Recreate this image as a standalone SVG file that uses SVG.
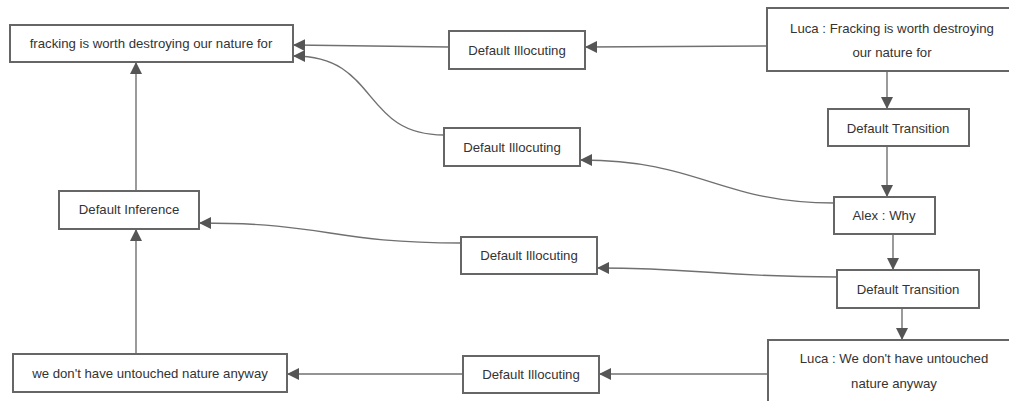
<svg xmlns="http://www.w3.org/2000/svg" width="1009" height="401" viewBox="0 0 1009 401">
  <style>
    .box { fill: #ffffff; stroke: #666666; stroke-width: 2; }
    .lbl { font-family: "Liberation Sans", Arial, sans-serif; font-size: 13.2px; fill: #333333; text-anchor: middle; dominant-baseline: central; }
    .edge { fill: none; stroke: #707070; stroke-width: 1.4; marker-end: url(#arrow); }
  </style>
  <defs>
    <marker id="arrow" markerUnits="userSpaceOnUse" markerWidth="12" markerHeight="12" refX="11" refY="6" orient="auto">
      <path d="M0,0 L12,6 L0,12 z" fill="#555555"/>
    </marker>
  </defs>
  <rect width="1009" height="401" fill="#ffffff"/>

  <!-- connectors -->
  <g id="connectors">
    <path class="edge" d="M767,46 L586,47"/>
    <path class="edge" d="M449,47 L294,45"/>
    <path class="edge" d="M444,135 C360,135 380,56 294,56"/>
    <path class="edge" d="M834,203 C720,203 700,160 581,160"/>
    <path class="edge" d="M887,71 L887,108"/>
    <path class="edge" d="M887,146 L887,196"/>
    <path class="edge" d="M893,234 L893,269"/>
    <path class="edge" d="M902,308 L902,339"/>
    <path class="edge" d="M837,277 C720,277 700,268 598,268"/>
    <path class="edge" d="M461,243 C330,243 330,223 200,223"/>
    <path class="edge" d="M136,191 L136,63"/>
    <path class="edge" d="M136,354 L136,230"/>
    <path class="edge" d="M768,374 L600,374"/>
    <path class="edge" d="M463,374 L288,374"/>
  </g>

  <!-- nodes -->
  <g id="n-fracking">
    <rect class="box" x="10" y="25" width="283" height="37"/>
    <text class="lbl" x="151" y="43">fracking is worth destroying our nature for</text>
  </g>
  <g id="n-illoc1">
    <rect class="box" x="449" y="31" width="136" height="38"/>
    <text class="lbl" x="517" y="50">Default Illocuting</text>
  </g>
  <g id="n-luca1">
    <rect class="box" x="767" y="8" width="250" height="63"/>
    <text class="lbl" x="892" y="28">Luca : Fracking is worth destroying</text>
    <text class="lbl" x="892" y="52">our nature for</text>
  </g>
  <g id="n-trans1">
    <rect class="box" x="828" y="109" width="141" height="37"/>
    <text class="lbl" x="898" y="128">Default Transition</text>
  </g>
  <g id="n-illoc2">
    <rect class="box" x="444" y="128" width="136" height="38"/>
    <text class="lbl" x="512" y="147">Default Illocuting</text>
  </g>
  <g id="n-alex">
    <rect class="box" x="834" y="197" width="101" height="37"/>
    <text class="lbl" x="884" y="215">Alex : Why</text>
  </g>
  <g id="n-inference">
    <rect class="box" x="59" y="191" width="140" height="38"/>
    <text class="lbl" x="129" y="209">Default Inference</text>
  </g>
  <g id="n-illoc3">
    <rect class="box" x="461" y="237" width="136" height="37"/>
    <text class="lbl" x="529" y="255">Default Illocuting</text>
  </g>
  <g id="n-trans2">
    <rect class="box" x="837" y="270" width="142" height="38"/>
    <text class="lbl" x="908" y="289">Default Transition</text>
  </g>
  <g id="n-untouched">
    <rect class="box" x="13" y="354" width="274" height="38"/>
    <text class="lbl" x="150" y="373">we don't have untouched nature anyway</text>
  </g>
  <g id="n-illoc4">
    <rect class="box" x="463" y="356" width="136" height="37"/>
    <text class="lbl" x="531" y="374">Default Illocuting</text>
  </g>
  <g id="n-luca2">
    <rect class="box" x="768" y="340" width="250" height="70"/>
    <text class="lbl" x="894" y="358">Luca : We don't have untouched</text>
    <text class="lbl" x="894" y="383">nature anyway</text>
  </g>
</svg>
